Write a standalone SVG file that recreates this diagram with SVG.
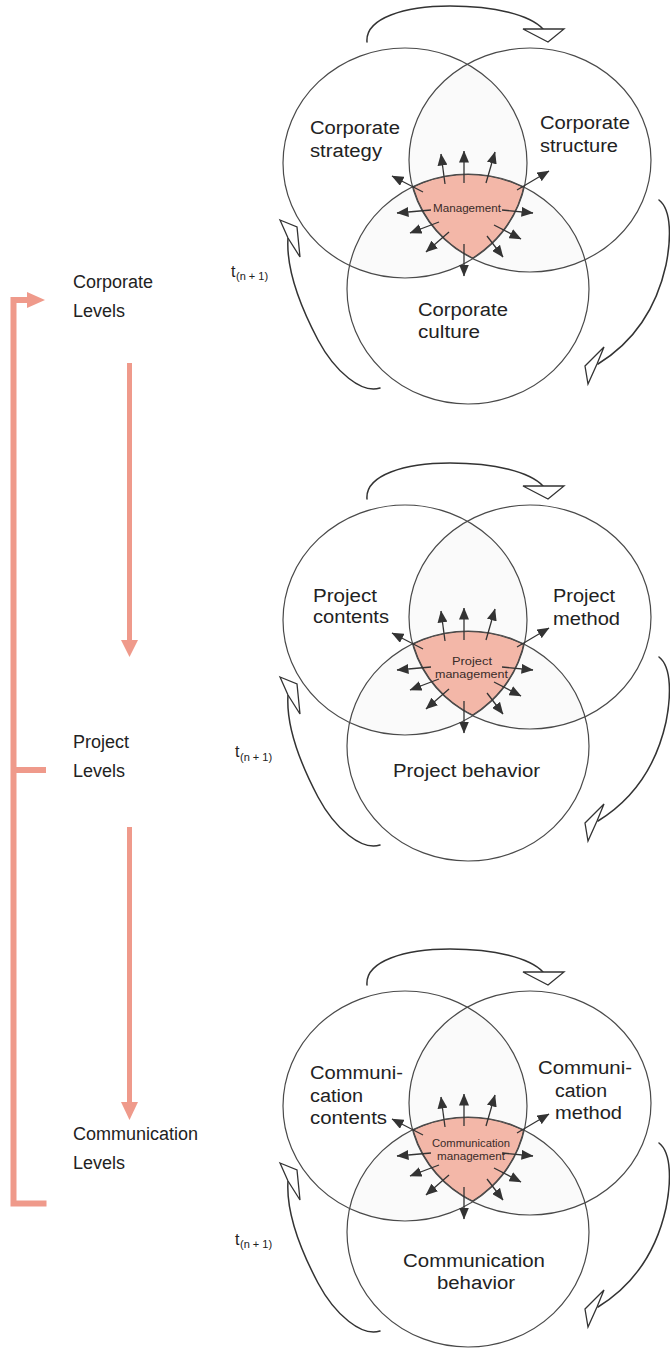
<svg xmlns="http://www.w3.org/2000/svg" width="670" height="1350" viewBox="0 0 670 1350">
<style>
.ring{fill:none;stroke:#4a4a4a;stroke-width:1.2}
.lens{fill:#fafafa;stroke:none}
.core{fill:#f3b7a8;stroke:none}
.edge{fill:none;stroke:#444;stroke-width:2.2}
.lbl{font-family:"Liberation Sans",Arial,Helvetica,sans-serif;font-size:18px;fill:#222}
.mgmt{font-family:"Liberation Sans",Arial,Helvetica,sans-serif;font-size:11px;fill:#3a2b28;text-anchor:middle}
.ray{stroke:#333;stroke-width:1.3;marker-end:url(#tip)}
.cycle{fill:none;stroke:#333;stroke-width:1.5;stroke-linecap:round}
.cyhead{fill:#fff;stroke:#333;stroke-width:1.3;stroke-linejoin:miter}
.salmon{fill:none;stroke:#ef9a8b;stroke-width:6}
.salmonhead{fill:#ef9a8b;stroke:none}
.tm{font-family:"Liberation Sans",Arial,Helvetica,sans-serif;font-size:16px;fill:#222}
.tsub{font-family:"Liberation Sans",Arial,Helvetica,sans-serif;font-size:11px;fill:#222}
</style>
<defs>
  <marker id="tip" markerUnits="userSpaceOnUse" markerWidth="12" markerHeight="10" viewBox="0 0 12 10" refX="11.5" refY="5" orient="auto">
    <path d="M0,0 L12,5 L0,10 z" fill="#333"/>
  </marker>
  <clipPath id="inTL"><ellipse cx="405" cy="163" rx="122" ry="115"/></clipPath>
  <clipPath id="inTR"><ellipse cx="530" cy="160" rx="121" ry="112"/></clipPath>
  <clipPath id="inB"><ellipse cx="468" cy="289" rx="121" ry="115"/></clipPath>

  <!-- shared three-ring figure: rings, shared core, radiating rays, cycle arrows -->
  <g id="venn-base">
    <g clip-path="url(#inTL)">
      <ellipse class="lens" cx="530" cy="160" rx="121" ry="112"/>
      <ellipse class="lens" cx="468" cy="289" rx="121" ry="115"/>
    </g>
    <g clip-path="url(#inTR)">
      <ellipse class="lens" cx="468" cy="289" rx="121" ry="115"/>
    </g>
    <g clip-path="url(#inTL)">
      <g clip-path="url(#inTR)">
        <g clip-path="url(#inB)">
          <ellipse class="core" cx="468" cy="289" rx="121" ry="115"/>
          <ellipse class="edge" cx="468" cy="289" rx="121" ry="115"/>
          <ellipse class="edge" cx="405" cy="163" rx="122" ry="115"/>
          <ellipse class="edge" cx="530" cy="160" rx="121" ry="112"/>
        </g>
      </g>
    </g>
    <ellipse class="ring" cx="405" cy="163" rx="122" ry="115"/>
    <ellipse class="ring" cx="530" cy="160" rx="121" ry="112"/>
    <ellipse class="ring" cx="468" cy="289" rx="121" ry="115"/>

    <g class="rays">
      <line class="ray" x1="445" y1="184" x2="441" y2="154"/>
      <line class="ray" x1="464" y1="183" x2="464" y2="151"/>
      <line class="ray" x1="486" y1="183" x2="495" y2="152"/>
      <line class="ray" x1="423" y1="192" x2="392" y2="176"/>
      <line class="ray" x1="517" y1="190" x2="549" y2="171"/>
      <line class="ray" x1="431" y1="210" x2="397" y2="213"/>
      <line class="ray" x1="502" y1="210" x2="533" y2="213"/>
      <line class="ray" x1="439" y1="222" x2="410" y2="233"/>
      <line class="ray" x1="494" y1="225" x2="521" y2="239"/>
      <line class="ray" x1="449" y1="232" x2="426" y2="252"/>
      <line class="ray" x1="487" y1="236" x2="503" y2="257"/>
      <line class="ray" x1="464" y1="244" x2="464" y2="276"/>
    </g>

    <g class="cycles">
      <path class="cycle" d="M367,42 C365,18 405,6 450,6 C495,6 530,15 543,29"/>
      <polygon class="cyhead" points="523,29 564,29 548,42"/>
      <path class="cycle" d="M659,200 C672,210 671,240 666,265 C656,310 632,343 598,364"/>
      <polygon class="cyhead" points="604,347 585,366 588,384 597,364"/>
      <path class="cycle" d="M380,388 C362,394 335,372 318,340 C298,302 286,268 288,238"/>
      <polygon class="cyhead" points="280,220 297,227 300,257 288,238"/>
    </g>
  </g>
</defs>

<!-- level labels -->
<g id="level-corporate">
  <text class="lbl" x="73" y="288">Corporate</text>
  <text class="lbl" x="73" y="317">Levels</text>
</g>
<g id="level-project">
  <text class="lbl" x="73" y="748">Project</text>
  <text class="lbl" x="73" y="777">Levels</text>
</g>
<g id="level-communication">
  <text class="lbl" x="73" y="1140">Communication</text>
  <text class="lbl" x="73" y="1169">Levels</text>
</g>

<!-- time marks -->
<g id="time-marks">
  <text class="tm" x="231" y="277">t</text><text class="tsub" x="236" y="280">(n + 1)</text>
  <text class="tm" x="235" y="757">t</text><text class="tsub" x="240" y="761">(n + 1)</text>
  <text class="tm" x="235" y="1245">t</text><text class="tsub" x="240" y="1248">(n + 1)</text>
</g>

<!-- corporate level -->
<g id="venn-corporate">
  <use href="#venn-base"/>
  <g id="corporate-strategy">
    <text class="lbl" x="310" y="134" textLength="90" lengthAdjust="spacingAndGlyphs">Corporate</text>
    <text class="lbl" x="310" y="157" textLength="72" lengthAdjust="spacingAndGlyphs">strategy</text>
  </g>
  <g id="corporate-structure">
    <text class="lbl" x="540" y="129" textLength="90" lengthAdjust="spacingAndGlyphs">Corporate</text>
    <text class="lbl" x="540" y="152" textLength="78" lengthAdjust="spacingAndGlyphs">structure</text>
  </g>
  <g id="corporate-culture">
    <text class="lbl" x="418" y="316" textLength="90" lengthAdjust="spacingAndGlyphs">Corporate</text>
    <text class="lbl" x="418" y="338" textLength="62" lengthAdjust="spacingAndGlyphs">culture</text>
  </g>
  <g id="management">
    <text class="mgmt" x="467" y="212" textLength="68" lengthAdjust="spacingAndGlyphs">Management</text>
  </g>
</g>

<!-- project level -->
<g id="venn-project" transform="translate(0,457)">
  <use href="#venn-base"/>
  <g id="project-contents">
    <text class="lbl" x="313" y="145" textLength="64" lengthAdjust="spacingAndGlyphs">Project</text>
    <text class="lbl" x="313" y="166" textLength="76" lengthAdjust="spacingAndGlyphs">contents</text>
  </g>
  <g id="project-method">
    <text class="lbl" x="553" y="145" textLength="62" lengthAdjust="spacingAndGlyphs">Project</text>
    <text class="lbl" x="553" y="168" textLength="67" lengthAdjust="spacingAndGlyphs">method</text>
  </g>
  <g id="project-behavior">
    <text class="lbl" x="393" y="320" textLength="147" lengthAdjust="spacingAndGlyphs">Project behavior</text>
  </g>
  <g id="project-management">
    <text class="mgmt" x="472" y="208" textLength="40" lengthAdjust="spacingAndGlyphs">Project</text>
    <text class="mgmt" x="471.5" y="221" textLength="73" lengthAdjust="spacingAndGlyphs">management</text>
  </g>
</g>

<!-- communication level -->
<g id="venn-communication" transform="translate(0,943)">
  <use href="#venn-base"/>
  <g id="communication-contents">
    <text class="lbl" x="310" y="136" textLength="93" lengthAdjust="spacingAndGlyphs">Communi-</text>
    <text class="lbl" x="310" y="159" textLength="53" lengthAdjust="spacingAndGlyphs">cation</text>
    <text class="lbl" x="310" y="181" textLength="77" lengthAdjust="spacingAndGlyphs">contents</text>
  </g>
  <g id="communication-method">
    <text class="lbl" x="538" y="131" textLength="94" lengthAdjust="spacingAndGlyphs">Communi-</text>
    <text class="lbl" x="555" y="154" textLength="52" lengthAdjust="spacingAndGlyphs">cation</text>
    <text class="lbl" x="555" y="176" textLength="67" lengthAdjust="spacingAndGlyphs">method</text>
  </g>
  <g id="communication-behavior">
    <text class="lbl" x="403" y="324" textLength="142" lengthAdjust="spacingAndGlyphs">Communication</text>
    <text class="lbl" x="437" y="346" textLength="78" lengthAdjust="spacingAndGlyphs">behavior</text>
  </g>
  <g id="communication-management">
    <text class="mgmt" x="471" y="204" font-size="10.5" textLength="78" lengthAdjust="spacingAndGlyphs">Communication</text>
    <text class="mgmt" x="471" y="217" font-size="10.5" textLength="68" lengthAdjust="spacingAndGlyphs">management</text>
  </g>
</g>

<!-- connectors between levels -->
<g id="connectors">
  <path class="salmon" d="M46.5,1203.5 H13.5 V300 H29"/>
  <polygon class="salmonhead" points="27,292 45,300 27,308"/>
  <line class="salmon" x1="13.5" y1="770" x2="46" y2="770"/>
  <line class="salmon" x1="129.5" y1="363" x2="129.5" y2="642" style="stroke-width:5"/>
  <polygon class="salmonhead" points="121,640 138,640 129.5,657"/>
  <line class="salmon" x1="129.5" y1="827" x2="129.5" y2="1104" style="stroke-width:5"/>
  <polygon class="salmonhead" points="121,1102 138,1102 129.5,1120"/>
</g>
</svg>
